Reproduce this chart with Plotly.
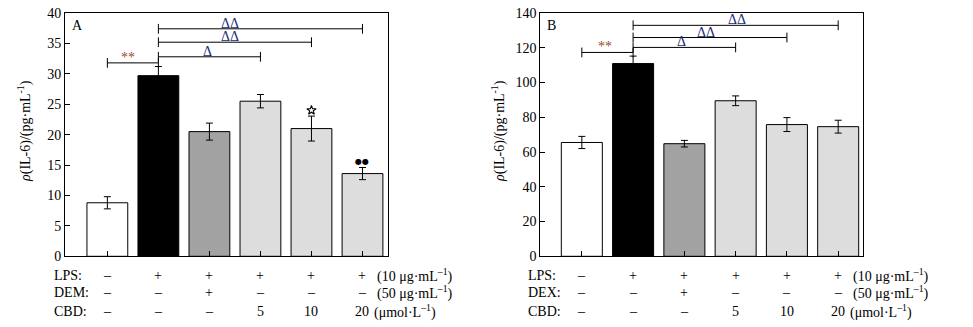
import plotly.graph_objects as go

W, H = 973, 327
FONT = "Liberation Serif, Times New Roman, serif"

# ---------------- data ----------------
groups = ["Control", "LPS", "LPS+DRUG", "LPS+CBD5", "LPS+CBD10", "LPS+CBD20"]
bar_colors = ["#ffffff", "#000000", "#a1a2a1", "#dcdddc", "#dcdddc", "#dcdddc"]

a_vals = [8.8, 29.7, 20.5, 25.5, 21.0, 13.6]
a_err = [1.0, 1.5, 1.4, 1.1, 2.05, 1.0]
b_vals = [65.5, 110.9, 64.8, 89.5, 75.8, 74.6]
b_err = [3.5, 4.3, 1.9, 2.8, 4.0, 3.7]

# significance brackets: start index, end index, height, label, label x
a_br_start = [0, 1, 1, 1]
a_br_end = [1, 3, 4, 5]
a_br_y = [31.8, 32.8, 35.2, 37.4]
a_br_text = ["**", "Δ", "ΔΔ", "ΔΔ"]
a_br_tx = [0.41, 1.96, 2.40, 2.40]

b_br_start = [0, 1, 1, 1]
b_br_end = [1, 3, 4, 5]
b_br_y = [117.3, 120.2, 125.9, 132.9]
b_br_text = ["**", "Δ", "ΔΔ", "ΔΔ"]
b_br_tx = [0.45, 1.95, 2.42, 3.03]

# markers above bars in panel A
a_star_idx = [4]
a_star_y = [24.0]
a_dots_idx = [5]
a_dots_text = ["●●"]
a_dots_y = [15.6]

# table rows
lps_row = ["–", "+", "+", "+", "+", "+"]
drug_row = ["–", "–", "+", "–", "–", "–"]
cbd_row = ["–", "–", "–", "5", "10", "20"]
a_row_names = ["LPS:", "DEM:", "CBD:"]
b_row_names = ["LPS:", "DEX:", "CBD:"]
row_units = ["(10 μg·mL<sup>–1</sup>)", "(50 μg·mL<sup>–1</sup>)", "(μmol·L<sup>–1</sup>)"]

a_yticks = list(range(0, 41, 5))
b_yticks = list(range(0, 141, 20))

# ---------------- layout geometry (pixels) ----------------
def px_x(p):
    return p / W

def px_y(p):
    return 1 - p / H

plot_top, plot_bot = 13, 256.3
a_left, a_right = 65, 388
b_left, b_right = 540.3, 863.3

fig = go.Figure()
x_idx = list(range(len(groups)))

def add_panel(xa, ya, vals, errs, br_s, br_e, br_y, br_t, br_tx):
    fig.add_trace(go.Bar(
        x=x_idx, y=vals, width=0.8, xaxis=xa, yaxis=ya,
        marker=dict(color=bar_colors, line=dict(color="black", width=1)),
        error_y=dict(type="data", array=errs, visible=True, color="black",
                     thickness=1, width=3.5),
        showlegend=False, hoverinfo="skip"))
    for s, e, y in zip(br_s, br_e, br_y):
        fig.add_trace(go.Scatter(
            x=[s, e], y=[y, y], mode="lines+markers", xaxis=xa, yaxis=ya,
            line=dict(color="black", width=1),
            marker=dict(symbol="line-ns", size=7, line=dict(color="black", width=1)),
            showlegend=False, hoverinfo="skip"))
    for t, tx, y in zip(br_t, br_tx, br_y):
        col = "#9a4a2a" if t == "**" else "#1c2a78"
        fig.add_annotation(x=tx, y=y, xref=xa, yref=ya, text=t, showarrow=False,
                           xanchor="center", yanchor="bottom", yshift=-4,
                           font=dict(family=FONT, size=14, color=col))

add_panel("x", "y", a_vals, a_err, a_br_start, a_br_end, a_br_y, a_br_text, a_br_tx)
add_panel("x2", "y2", b_vals, b_err, b_br_start, b_br_end, b_br_y, b_br_text, b_br_tx)

# star marker above bar 5 in A
fig.add_trace(go.Scatter(
    x=a_star_idx, y=a_star_y, mode="markers", xaxis="x", yaxis="y",
    marker=dict(symbol="star-open", size=7, color="black", line=dict(color="black", width=1.1)),
    showlegend=False, hoverinfo="skip"))
for i, t, y in zip(a_dots_idx, a_dots_text, a_dots_y):
    fig.add_annotation(x=i, y=y, xref="x", yref="y", text=t,
                       showarrow=False, xanchor="center", yanchor="middle",
                       font=dict(family="DejaVu Sans", size=8, color="black"))

# panel letters
for lx, letter in ((77.7, "A"), (551.7, "B")):
    fig.add_annotation(x=px_x(lx), y=px_y(25.7), xref="paper", yref="paper", text=letter,
                       xanchor="center", yanchor="middle", showarrow=False,
                       font=dict(family=FONT, size=14, color="black"))

# y titles
ytitle = "<i>ρ</i>(IL-6)/(pg·mL<sup>-1</sup>)"
for xp in (24, 498):
    fig.add_annotation(x=px_x(xp), y=px_y(131), xref="paper", yref="paper", text=ytitle,
                       textangle=-90, showarrow=False, xanchor="center", yanchor="middle",
                       font=dict(family=FONT, size=14, color="black"))

# table below
row_y = [275, 292.7, 311]
unit_shift = [13, 13, 10]
for xa, lx, names in (("x", 52, a_row_names), ("x2", 525.7, b_row_names)):
    rows = [lps_row, drug_row, cbd_row]
    for r, (name, vals, yp) in enumerate(zip(names, rows, row_y)):
        fig.add_annotation(x=px_x(lx), y=px_y(yp), xref="paper", yref="paper", text=name,
                           xanchor="left", yanchor="middle", showarrow=False,
                           font=dict(family=FONT, size=14, color="black"))
        for i, v in enumerate(vals):
            fig.add_annotation(x=i, y=px_y(yp), xref=xa, yref="paper", text=v,
                               xanchor="center", yanchor="middle", showarrow=False,
                               font=dict(family=FONT, size=14, color="black"))
        fig.add_annotation(x=len(vals) - 1, y=px_y(yp), xref=xa, yref="paper",
                           text=row_units[r], xanchor="left", yanchor="middle",
                           xshift=unit_shift[r], showarrow=False,
                           font=dict(family=FONT, size=14, color="black"))

axis_common = dict(showline=True, linecolor="black", linewidth=1, mirror=True,
                   ticks="inside", ticklen=5, tickcolor="black", tickwidth=1,
                   showgrid=False, zeroline=False, automargin=False)

ydom = [px_y(plot_bot), px_y(plot_top)]
fig.update_layout(
    width=W, height=H, margin=dict(l=0, r=0, t=0, b=0, pad=0, autoexpand=False),
    paper_bgcolor="white", plot_bgcolor="white",
    font=dict(family=FONT, size=14, color="black"),
    xaxis=dict(domain=[px_x(a_left), px_x(a_right)], range=[-0.83, 5.5],
               tickvals=x_idx, showticklabels=False, anchor="y", **axis_common),
    yaxis=dict(domain=ydom, range=[0, 40], tickvals=a_yticks, anchor="x",
               tickfont=dict(family=FONT, size=14), **axis_common),
    xaxis2=dict(domain=[px_x(b_left), px_x(b_right)], range=[-0.81, 5.49],
                tickvals=x_idx, showticklabels=False, anchor="y2", **axis_common),
    yaxis2=dict(domain=ydom, range=[0, 140], tickvals=b_yticks, anchor="x2",
                tickfont=dict(family=FONT, size=14), **axis_common),
    bargap=0.2,
)

fig.write_html("out.html")
